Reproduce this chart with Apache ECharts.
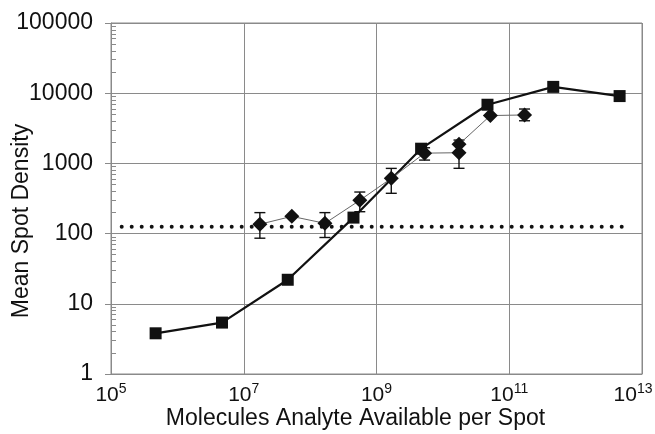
<!DOCTYPE html>
<html><head><meta charset="utf-8">
<script src="https://cdn.jsdelivr.net/npm/echarts@6/dist/echarts.min.js"></script>
<style>html,body{margin:0;padding:0;background:#fff}#c{width:655px;height:434px}</style>
</head><body><div id="c"></div>
<script>
// Square series (thick line)
const squareX = [4.7e5, 4.7e6, 4.6e7, 4.5e8, 4.7e9, 4.7e10, 4.6e11, 4.6e12];
const squareY = [3.8, 5.4, 22, 169, 1620, 6850, 12300, 9100];
// Diamond series (thin line) with error bars
const diamondX = [1.75e7, 5.3e7, 1.67e8, 5.6e8, 1.67e9, 5.3e9, 1.75e10, 1.75e10, 5.2e10, 1.7e11];
const diamondY = [136, 176, 140, 298, 612, 1400, 1420, 1870, 4800, 4900];
const errLow  = [86, null, 88, 205, 375, 1115, 851, null, null, 4050];
const errHigh = [199, null, 199, 391, 849, 1670, null, 2150, null, 5950];
// Dotted threshold line
const thresholdX = [1.45e5, 6.3e12];
const thresholdY = 125;

const FONT = "'Liberation Sans', Arial, sans-serif";
const chart = echarts.init(document.getElementById('c'), null, {renderer: 'canvas'});

const errData = [];
diamondX.forEach((x, i) => {
  const lo = errLow[i] == null ? diamondY[i] : errLow[i];
  const hi = errHigh[i] == null ? diamondY[i] : errHigh[i];
  if (errLow[i] != null || errHigh[i] != null) errData.push([x, lo, hi]);
});

const option = {
  animation: false,
  backgroundColor: '#fff',
  grid: {left: 111, right: 13, top: 23, bottom: 60, show: true, borderColor: '#8a8a8a', borderWidth: 1,
         containLabel: false, outerBoundsMode: 'none'},
  xAxis: {
    type: 'log', logBase: 10, min: 1e5, max: 1e13, interval: 2,
    name: 'Molecules Analyte Available per Spot',
    nameLocation: 'middle', nameGap: 33, nameMoveOverlap: false,
    nameTextStyle: {fontFamily: FONT, fontSize: 23, color: '#111', padding: [0, 42, 0, 0]},
    axisLine: {lineStyle: {color: '#8a8a8a', width: 1}},
    axisTick: {show: false},
    splitLine: {show: true, lineStyle: {color: '#8a8a8a', width: 1}},
    axisLabel: {
      margin: 8,
      formatter: v => {
        const e = Math.round(Math.log10(v));
        return e === 13 ? '{b|10}{s|' + e + '}{p|}' : '{b|10}{s|' + e + '}';
      },
      rich: {
        b: {fontFamily: FONT, fontSize: 21, color: '#111', lineHeight: 26},
        s: {fontFamily: FONT, fontSize: 14, color: '#111', lineHeight: 16, verticalAlign: 'top'},
        p: {width: 18}
      }
    }
  },
  yAxis: [{
    type: 'log', logBase: 10, min: 1, max: 1e5, interval: 1,
    name: 'Mean Spot Density',
    nameLocation: 'middle', nameGap: 78, nameMoveOverlap: false,
    nameTextStyle: {fontFamily: FONT, fontSize: 23, color: '#111', padding: [0, 45, 0, 0]},
    axisLine: {lineStyle: {color: '#8a8a8a', width: 1}},
    axisTick: {show: true, inside: false, length: 6, lineStyle: {color: '#8a8a8a'}},
    splitLine: {show: true, lineStyle: {color: '#8a8a8a', width: 1}},
    axisLabel: {margin: 18, fontFamily: FONT, fontSize: 23, color: '#111', formatter: v => String(Math.round(v))}
  }, {
    type: 'log', logBase: 10, min: 1, max: 1e5, interval: 1, position: 'left',
    axisLine: {show: false},
    axisTick: {show: true, inside: true, length: 0},
    minorTick: {show: true, splitNumber: 9, length: 5, lineStyle: {color: '#8a8a8a', width: 1}},
    splitLine: {show: false},
    axisLabel: {show: false}
  }],
  series: [
    {
      type: 'line', name: 'threshold', yAxisIndex: 0,
      data: thresholdX.map(x => [x, thresholdY]),
      symbol: 'none', silent: true,
      lineStyle: {color: '#111', width: 4, type: [0, 10], cap: 'round'}
    },
    {
      type: 'line', name: 'squares', yAxisIndex: 0,
      data: squareX.map((x, i) => [x, squareY[i]]),
      symbol: 'rect', symbolSize: 12,
      itemStyle: {color: '#111'},
      lineStyle: {color: '#111', width: 2.2}
    },
    {
      type: 'line', name: 'diamonds', yAxisIndex: 0,
      data: diamondX.map((x, i) => [x, diamondY[i]]),
      symbol: 'diamond', symbolSize: 15,
      itemStyle: {color: '#111'},
      lineStyle: {color: '#666', width: 1}
    },
    {
      type: 'custom', name: 'errors', yAxisIndex: 0,
      data: errData,
      encode: {x: 0, y: [1, 2]},
      renderItem: (params, api) => {
        const x = api.value(0);
        const pLo = api.coord([x, api.value(1)]);
        const pHi = api.coord([x, api.value(2)]);
        const w = 5.5;
        const st = {stroke: '#111', lineWidth: 1.4};
        return {type: 'group', children: [
          {type: 'line', shape: {x1: pLo[0], y1: pLo[1], x2: pHi[0], y2: pHi[1]}, style: st},
          {type: 'line', shape: {x1: pLo[0] - w, y1: pLo[1], x2: pLo[0] + w, y2: pLo[1]}, style: st},
          {type: 'line', shape: {x1: pHi[0] - w, y1: pHi[1], x2: pHi[0] + w, y2: pHi[1]}, style: st}
        ]};
      }
    }
  ]
};
chart.setOption(option);
</script>
</body></html>
